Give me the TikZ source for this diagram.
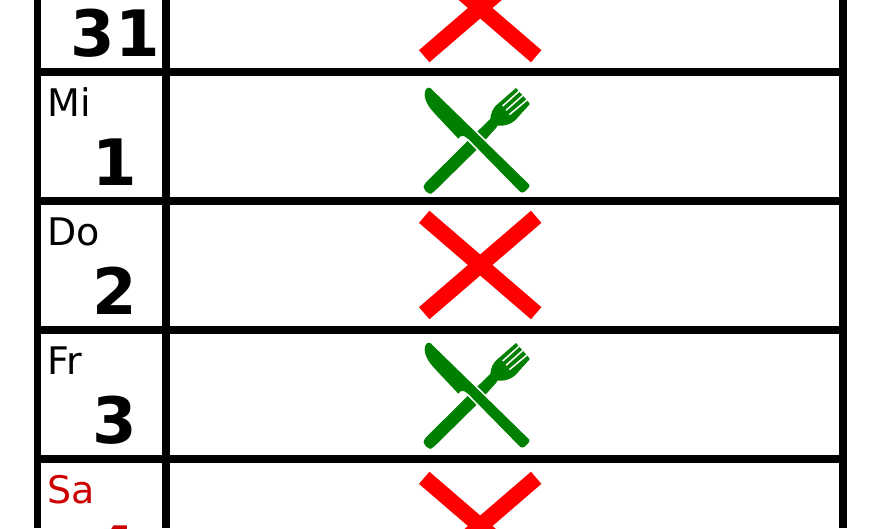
\documentclass[tikz,border=0pt]{standalone}
\usepackage{fontspec}
\setmainfont{DejaVu Sans}
\definecolor{grn}{RGB}{0,128,0}
\definecolor{redx}{RGB}{255,0,0}
\definecolor{redt}{RGB}{204,0,0}
\tikzset{
  grid/.style={line width=7.6pt,black},
  cross/.style={line width=16pt,redx},
  dayname/.style={anchor=base west,font=\fontsize{38}{38}\selectfont,inner sep=0pt},
  daynum/.style={anchor=base,font=\fontsize{64}{64}\selectfont\bfseries,inner sep=0pt},
  slot/.style={white,line width=1.5pt},
  cutlery/.pic={
    \begin{scope}[x=0.33333pt,y=-0.33333pt]
    % fork
    \fill[grn,rounded corners=3pt] (41,329) -- (175,196) -- (250,123) -- (266,150) -- (197,227) -- (67,355) -- (56,357) -- (41,342) -- cycle;
    \fill[grn] (241,135) .. controls (242,112) and (250,98) .. (262,88) -- (318,39) -- (358,84) -- (358,89) -- (328,122) .. controls (312,144) and (290,154) .. (262,152) -- cycle;
    \draw[slot] (278,93) -- (329,47);
    \draw[slot] (288,106) -- (341,59);
    \draw[slot] (298,119) -- (352,74);
    % knife
    \def\kn{(62,40) -- (357,328) .. controls (360,332) and (358,336) .. (355,339) -- (344,350) .. controls (340,354) and (334,353) .. (330,350) -- (175,192) -- (162,183) -- (151,184) -- (145,191) -- (80,122) .. controls (60,100) and (46,85) .. (44,60) .. controls (43,42) and (54,34) .. (62,40) -- cycle}
    \draw[white,line width=3.4pt,line join=round] \kn;
    \fill[grn] \kn;
    \end{scope}
  }
}
\begin{document}
\begin{tikzpicture}[x=1pt,y=-1pt]
\useasboundingbox (0,0) rectangle (880,528);
\clip (0,0) rectangle (880,528);
\fill[white] (0,0) rectangle (880,528);
\foreach \yy in {72,201,330,459} \draw[grid] (34,\yy) -- (847,\yy);
\foreach \xx in {37.5,166,843} \draw[grid] (\xx,0) -- (\xx,528);
\foreach \cy in {8,265,526} {
  \draw[cross] (424.2,\cy-48.2) -- (536.2,\cy+48.2);
  \draw[cross] (536.2,\cy-48.2) -- (424.2,\cy+48.2);
}
\pic at (410,75) {cutlery};
\pic at (410,330) {cutlery};
\node[daynum] (n31) at (115,56) {31};
\node[dayname] (mi) at (47.5,116) {Mi};
\node[daynum] (n1) at (115,185) {1};
\node[dayname] (do) at (47.5,245) {Do};
\node[daynum] (n2) at (115,314) {2};
\node[dayname] (fr) at (47.5,374) {Fr};
\node[daynum] (n3) at (115,443) {3};
\node[dayname,text=redt] (sa) at (47.5,503) {Sa};
\node[daynum,text=redt] (n4) at (115,572) {4};
\end{tikzpicture}
\end{document}
